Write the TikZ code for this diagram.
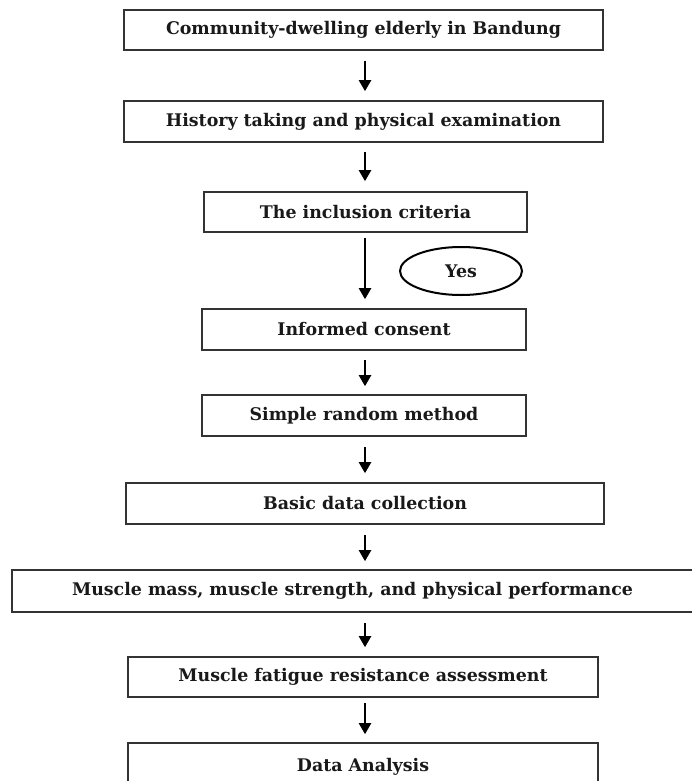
\documentclass[tikz,border=0pt]{standalone}
\usepackage{fontspec}
\setmainfont{DejaVu Serif}
\usetikzlibrary{arrows.meta,shapes.geometric}
\begin{document}
\begin{tikzpicture}[x=1pt,y=-1pt,
  box/.style={draw=black!80, line width=1.6pt, rectangle, inner sep=0pt, font=\fontsize{17.4}{20}\selectfont\bfseries, text=black!90},
  arr/.style={line width=2.2pt, black, -{Triangle[length=11pt,width=12pt]}},
  yesnode/.style={draw=black, line width=2pt, ellipse, inner sep=0pt, minimum width=122pt, minimum height=48pt, font=\fontsize{17.4}{20}\selectfont\bfseries, text=black!90}
]
\clip (0,0) rectangle (692,781);
\fill[white] (0,0) rectangle (692,781);
\coordinate (ax) at (365,0);
\node[box, minimum width=479pt, minimum height=40pt] (b1) at (363.5,30) {Community-dwelling elderly in Bandung};
\node[box, minimum width=479pt, minimum height=41pt] (b2) at (363.5,121.5) {History taking and physical examination};
\node[box, minimum width=323pt, minimum height=40pt] (b3) at (365.5,212) {The inclusion criteria};
\node[box, minimum width=324pt, minimum height=41pt] (b4) at (364,329.5) {Informed consent};
\node[box, minimum width=324pt, minimum height=41pt] (b5) at (364,415.5) {Simple random method};
\node[box, minimum width=478pt, minimum height=41pt] (b6) at (365,503.5) {Basic data collection};
\node[box, minimum width=681pt, minimum height=42pt] (b7) at (352.5,591) {Muscle mass, muscle strength, and physical performance};
\node[box, minimum width=470pt, minimum height=40pt] (b8) at (363,677) {Muscle fatigue resistance assessment};
\node[box, minimum width=470pt, minimum height=48pt] (b9) at (363,767) {Data Analysis};
\node[yesnode] (yes) at (461,271) {Yes};
\draw[arr, shorten <=10pt, shorten >=9pt] (b1.south -| ax) -- (b2.north -| ax);
\draw[arr, shorten <=9pt, shorten >=10pt] (b2.south -| ax) -- (b3.north -| ax);
\draw[arr, shorten <=5pt, shorten >=9pt] (b3.south -| ax) -- (b4.north -| ax);
\draw[arr, shorten <=9pt, shorten >=8pt] (b4.south -| ax) -- (b5.north -| ax);
\draw[arr, shorten <=10pt, shorten >=9pt] (b5.south -| ax) -- (b6.north -| ax);
\draw[arr, shorten <=10pt, shorten >=8pt] (b6.south -| ax) -- (b7.north -| ax);
\draw[arr, shorten <=10pt, shorten >=9pt] (b7.south -| ax) -- (b8.north -| ax);
\draw[arr, shorten <=5pt, shorten >=8pt] (b8.south -| ax) -- (b9.north -| ax);
\end{tikzpicture}
\end{document}
